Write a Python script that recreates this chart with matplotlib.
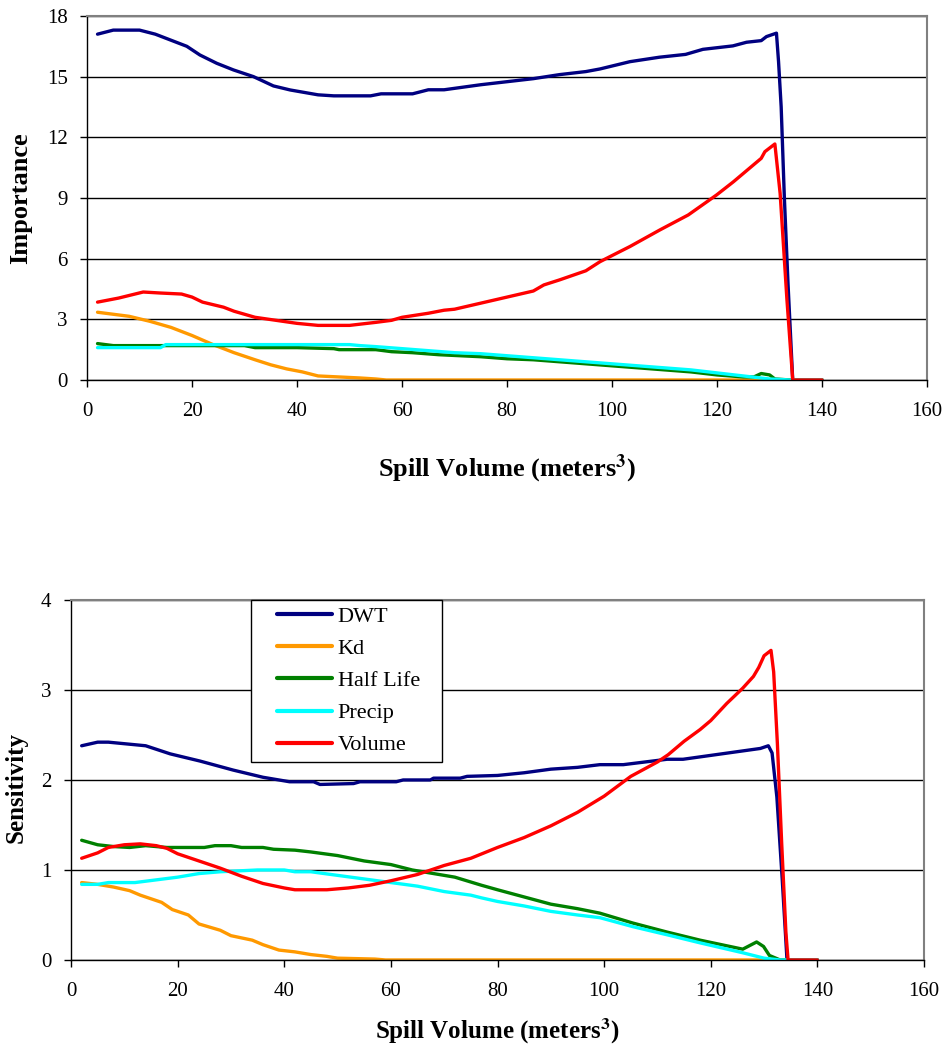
import matplotlib.pyplot as plt
from matplotlib.patches import Rectangle

plt.rcParams["font.family"] = "Liberation Serif"
plt.rcParams["mathtext.fontset"] = "stix"

NAMES = ["DWT", "Kd", "Half Life", "Precip", "Volume"]
COLOURS = ["#000080", "#FF9900", "#008000", "#00FFFF", "#FF0000"]

# ---- importance vs spill volume ----
imp_dwt_x = [2, 5, 10, 13, 16, 19, 21.5, 24.7, 27.9, 31.7, 35.5, 38.7, 44, 47, 54,
             56, 62, 65, 68, 75, 80, 85, 90, 95, 97.7, 103.4, 109, 114, 117.3, 123,
             125.6, 128.4, 129.4, 131.3, 131.7, 132.2, 132.8, 133.5, 134.4, 140]
imp_dwt_y = [17.1, 17.3, 17.3, 17.1, 16.8, 16.5, 16.07, 15.66, 15.33, 15.0, 14.54,
             14.34, 14.1, 14.05, 14.05, 14.15, 14.15, 14.35, 14.35, 14.6, 14.75,
             14.9, 15.1, 15.25, 15.38, 15.74, 15.96, 16.1, 16.35, 16.52, 16.7,
             16.78, 16.98, 17.15, 15.74, 13.5, 9.06, 4.78, 0, 0]

imp_kd_x = [2, 5, 8, 12, 16, 20, 24, 28, 32, 35, 38, 41, 44, 48, 52, 55, 57, 140]
imp_kd_y = [3.35, 3.25, 3.15, 2.9, 2.6, 2.2, 1.75, 1.35, 1.0, 0.75, 0.55, 0.4,
            0.2, 0.15, 0.1, 0.05, 0, 0]

imp_half_x = [2, 5, 20, 30, 32, 40, 47, 48, 55, 58, 62, 67, 75, 80, 85, 90, 95,
              100, 105, 110, 115, 120, 125, 127, 128.4, 130, 131, 134, 140]
imp_half_y = [1.8, 1.7, 1.7, 1.7, 1.6, 1.6, 1.55, 1.5, 1.5, 1.4, 1.35, 1.25, 1.15,
              1.05, 1.0, 0.9, 0.8, 0.7, 0.6, 0.5, 0.4, 0.25, 0.15, 0.15, 0.32,
              0.25, 0.05, 0, 0]

imp_precip_x = [2, 14, 15, 50, 52, 55, 60, 65, 70, 75, 80, 85, 90, 95, 100, 105,
                110, 115, 120, 125, 130, 134, 140]
imp_precip_y = [1.6, 1.6, 1.75, 1.75, 1.7, 1.65, 1.55, 1.45, 1.35, 1.3, 1.2, 1.1,
                1.0, 0.9, 0.8, 0.7, 0.6, 0.5, 0.35, 0.2, 0.05, 0, 0]

imp_vol_x = [2, 6, 10.7, 14, 18, 20, 22, 26, 28, 32, 36, 40, 44, 50, 55, 58, 60,
             65, 68, 70, 75, 80, 85, 87, 90, 95, 97.7, 100.2, 103.4, 109.1, 114.5,
             119.9, 123.1, 128.4, 129.1, 131, 132, 133.3, 134.4, 140]
imp_vol_y = [3.85, 4.05, 4.35, 4.3, 4.25, 4.1, 3.85, 3.6, 3.4, 3.1, 2.95, 2.8,
             2.7, 2.7, 2.85, 2.95, 3.1, 3.3, 3.45, 3.5, 3.8, 4.1, 4.4, 4.7, 4.95,
             5.4, 5.85, 6.18, 6.6, 7.42, 8.16, 9.15, 9.8, 10.96, 11.29, 11.67,
             9.23, 3.96, 0, 0]

# ---- sensitivity vs spill volume ----
sen_dwt_x = [2, 5, 7, 14, 18.6, 24.2, 30.4, 36, 41, 45.5, 46.7, 53, 54.2, 61,
             62.3, 67.4, 68, 73, 74.3, 80, 85, 90, 95, 99.2, 103.6, 111.8, 114.8,
             129.3, 130.8, 131.5, 132.4, 133.4, 134.3, 140]
sen_dwt_y = [2.38, 2.42, 2.42, 2.38, 2.29, 2.21, 2.11, 2.03, 1.98, 1.98, 1.95,
             1.96, 1.98, 1.98, 2.0, 2.0, 2.02, 2.02, 2.04, 2.05, 2.08, 2.12, 2.14,
             2.17, 2.17, 2.23, 2.23, 2.35, 2.38, 2.3, 1.81, 0.9, 0, 0]

sen_kd_x = [2, 5, 8, 11, 13, 17, 19, 22, 24, 28, 30, 34, 36, 39, 42, 45, 48, 50,
            57, 59, 140]
sen_kd_y = [0.86, 0.84, 0.81, 0.77, 0.72, 0.64, 0.56, 0.5, 0.4, 0.33, 0.27, 0.22,
            0.17, 0.11, 0.09, 0.06, 0.04, 0.02, 0.01, 0, 0]

sen_half_x = [2, 5, 8, 11, 14, 18, 25, 27, 30, 32, 36, 38, 42, 45, 50, 55, 60, 64,
              68, 72, 77, 80, 85, 90, 95, 99.2, 105.4, 111.8, 118, 126, 128.6,
              129.9, 131, 133, 140]
sen_half_y = [1.33, 1.28, 1.26, 1.25, 1.27, 1.25, 1.25, 1.27, 1.27, 1.25, 1.25,
              1.23, 1.22, 1.2, 1.16, 1.1, 1.06, 1.0, 0.96, 0.92, 0.83, 0.78, 0.7,
              0.62, 0.57, 0.52, 0.41, 0.31, 0.22, 0.12, 0.2, 0.15, 0.05, 0, 0]

sen_precip_x = [2, 5, 7, 12, 16, 20, 24, 28, 35, 40, 42, 45, 50, 55, 60, 65, 70,
                75, 77, 80, 85, 90, 95, 99.2, 105.4, 111.8, 118, 126, 130, 133, 140]
sen_precip_y = [0.84, 0.84, 0.86, 0.86, 0.89, 0.92, 0.96, 0.98, 1.0, 1.0, 0.98,
                0.98, 0.94, 0.9, 0.86, 0.82, 0.76, 0.72, 0.69, 0.65, 0.6, 0.54,
                0.5, 0.47, 0.37, 0.28, 0.19, 0.08, 0.02, 0, 0]

sen_vol_x = [2, 5, 7, 10, 13, 16, 18, 20, 24, 28, 32, 36, 40, 42, 48, 52, 56, 60,
             65, 70, 75, 80, 85, 90, 95, 100, 105, 110, 112, 115, 118, 120, 123,
             126, 128, 129, 130, 131.3, 131.8, 132.5, 133.3, 134.1, 134.5, 140]
sen_vol_y = [1.13, 1.19, 1.25, 1.28, 1.29, 1.27, 1.24, 1.18, 1.1, 1.02, 0.93,
             0.85, 0.8, 0.78, 0.78, 0.8, 0.83, 0.88, 0.95, 1.05, 1.13, 1.25, 1.36,
             1.49, 1.64, 1.82, 2.04, 2.2, 2.28, 2.43, 2.56, 2.66, 2.85, 3.02, 3.15,
             3.25, 3.38, 3.44, 3.2, 2.4, 1.3, 0.3, 0, 0]

importance = [(imp_dwt_x, imp_dwt_y), (imp_kd_x, imp_kd_y), (imp_half_x, imp_half_y),
              (imp_precip_x, imp_precip_y), (imp_vol_x, imp_vol_y)]
sensitivity = [(sen_dwt_x, sen_dwt_y), (sen_kd_x, sen_kd_y), (sen_half_x, sen_half_y),
               (sen_precip_x, sen_precip_y), (sen_vol_x, sen_vol_y)]


def style_ax(ax, ymax, ystep):
    ax.set_xlim(0, 160)
    ax.set_ylim(0, ymax)
    ax.set_xticks(range(0, 161, 20))
    ax.set_yticks(range(0, ymax + 1, ystep))
    ax.yaxis.grid(True, color="black", linewidth=1.0)
    ax.set_axisbelow(True)
    ax.tick_params(direction="out", length=5, width=1, labelsize=15)
    ax.tick_params(axis="x", pad=11)
    ax.tick_params(axis="y", pad=9)
    for side in ["top", "right"]:
        ax.spines[side].set_color("#808080")
        ax.spines[side].set_linewidth(1.5)
    for side in ["left", "bottom"]:
        ax.spines[side].set_color("black")
        ax.spines[side].set_linewidth(1.0)


def plot_series(ax, series):
    for (xs, ys), name, colour in zip(series, NAMES, COLOURS):
        ax.plot(xs, ys, color=colour, linewidth=2.4, label=name,
                solid_joinstyle="round", solid_capstyle="round")


fig = plt.figure(figsize=(9.48, 10.57), dpi=100)
ax1 = fig.add_axes([0.0918, 0.6405, 0.8862, 0.3444])
ax2 = fig.add_axes([0.0749, 0.0918, 0.8998, 0.3406])

plot_series(ax1, importance)
style_ax(ax1, 18, 3)
ax1.set_ylabel("Importance", fontsize=19, fontweight="bold")
ax1.yaxis.set_label_coords(-0.0655, 0.5)
ax1.set_xlabel(r"Spill Volume (meters$^\mathbf{3}$)", fontsize=19, fontweight="bold")
ax1.xaxis.set_label_coords(0.5, -0.2)

plot_series(ax2, sensitivity)
style_ax(ax2, 4, 1)
ax2.set_ylabel("Sensitivity", fontsize=18, fontweight="bold")
ax2.yaxis.set_label_coords(-0.0504, 0.48)
ax2.set_xlabel(r"Spill Volume (meters$^\mathbf{3}$)", fontsize=18, fontweight="bold")
ax2.xaxis.set_label_coords(0.5, -0.158)

# legend box drawn separately so the left padding can be wider than the top
ax2.add_patch(Rectangle((0.211, 0.55), 0.224, 0.45, transform=ax2.transAxes,
                        facecolor="white", edgecolor="black", linewidth=1.0,
                        zorder=4, clip_on=False))
leg = ax2.legend(loc="upper left", bbox_to_anchor=(0.241, 0.982), borderaxespad=0,
                 borderpad=0, fontsize=16, frameon=False, handlelength=2.5,
                 handletextpad=0.25, labelspacing=0.52)
leg.set_zorder(5)
for line in leg.get_lines():
    line.set_linewidth(3.0)

fig.savefig("out.png", dpi=100)
